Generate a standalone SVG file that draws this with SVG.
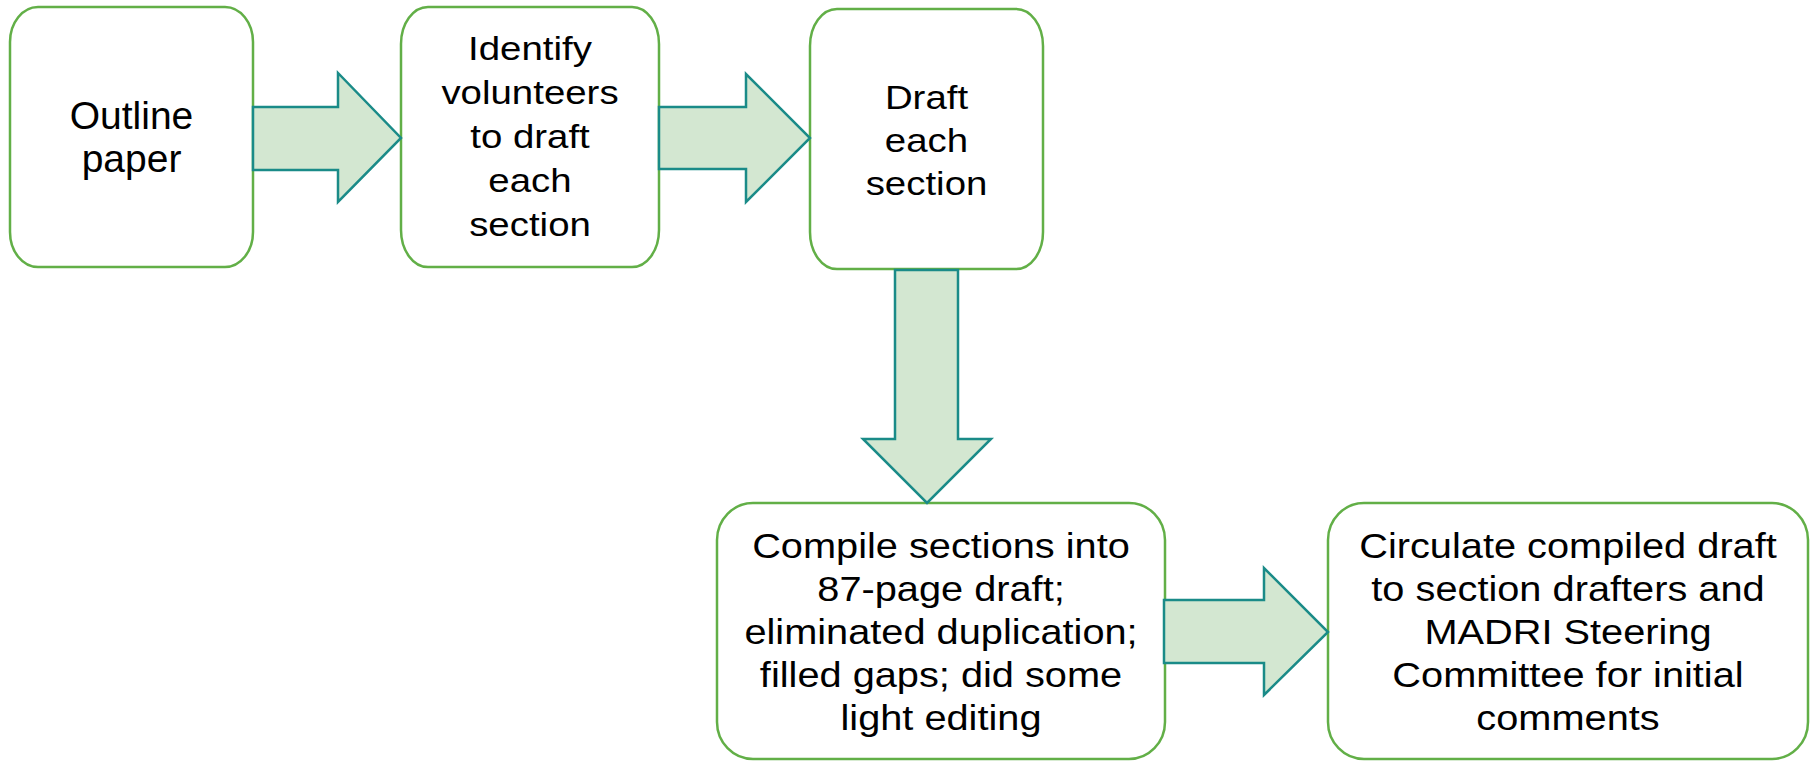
<svg xmlns="http://www.w3.org/2000/svg" width="1814" height="761" viewBox="0 0 1814 761">
<style>
.box{fill:#ffffff;stroke:#62AF47;stroke-width:2.5}
.arr{fill:#D3E7D1;stroke:#1A8B88;stroke-width:2.5;stroke-linejoin:miter}
.t{font-family:"Liberation Sans",Arial,sans-serif;fill:#000000;text-anchor:middle}
</style>
<rect width="1814" height="761" fill="#ffffff"/>
<g id="node-outline">
<rect class="box" x="10" y="7" width="243" height="260" rx="28" ry="35"/>
<text class="t" font-size="39"><tspan x="131.5" y="129">Outline</tspan><tspan x="131.5" y="172">paper</tspan></text>
</g>
<g id="node-identify">
<rect class="box" x="401" y="7" width="258" height="260" rx="27" ry="37"/>
<g transform="translate(530,0) scale(1.13,1)">
<text class="t" font-size="34"><tspan x="0" y="60">Identify</tspan><tspan x="0" y="104">volunteers</tspan><tspan x="0" y="148">to draft</tspan><tspan x="0" y="192">each</tspan><tspan x="0" y="236">section</tspan></text>
</g>
</g>
<g id="node-draft">
<rect class="box" x="810" y="9" width="233" height="260" rx="27" ry="37"/>
<g transform="translate(926.5,0) scale(1.13,1)">
<text class="t" font-size="34"><tspan x="0" y="109">Draft</tspan><tspan x="0" y="152">each</tspan><tspan x="0" y="195">section</tspan></text>
</g>
</g>
<g id="node-compile">
<rect class="box" x="717" y="503" width="448" height="256" rx="36" ry="37"/>
<g transform="translate(941,0) scale(1.136,1)">
<text class="t" font-size="35"><tspan x="0" y="558">Compile sections into</tspan><tspan x="0" y="601">87-page draft;</tspan><tspan x="0" y="644">eliminated duplication;</tspan><tspan x="0" y="687">filled gaps; did some</tspan><tspan x="0" y="730">light editing</tspan></text>
</g>
</g>
<g id="node-circulate">
<rect class="box" x="1328" y="503" width="480" height="256" rx="36" ry="37"/>
<g transform="translate(1568,0) scale(1.12,1)">
<text class="t" font-size="35.5"><tspan x="0" y="558">Circulate compiled draft</tspan><tspan x="0" y="601">to section drafters and</tspan><tspan x="0" y="644">MADRI Steering</tspan><tspan x="0" y="687">Committee for initial</tspan><tspan x="0" y="730">comments</tspan></text>
</g>
</g>
<g id="connectors">
<polygon class="arr" points="253,107 338,107 338,73 401,138 338,202 338,170 253,170"/>
<polygon class="arr" points="659,107 746,107 746,74 810,138 746,202 746,169 659,169"/>
<polygon class="arr" points="895,270 958,270 958,439 991,439 927,503 863,439 895,439"/>
<polygon class="arr" points="1164,600 1264,600 1264,568 1328,632 1264,695 1264,663 1164,663"/>
</g>
</svg>
